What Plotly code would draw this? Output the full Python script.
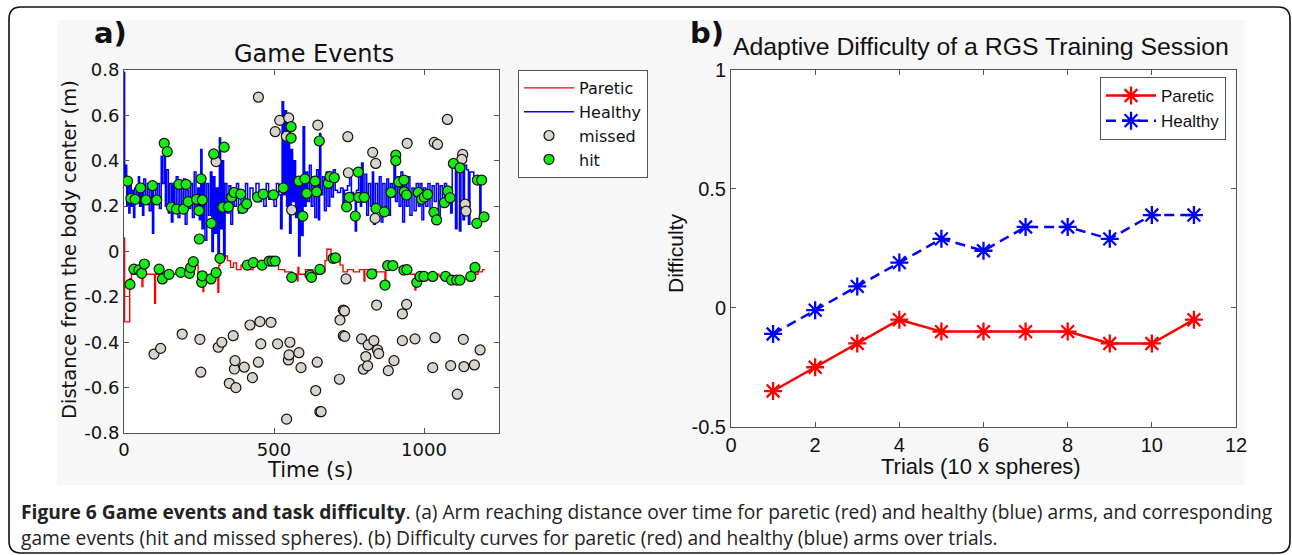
import plotly.graph_objects as go

W, H = 1292, 555

# ---------------- Panel a data ----------------
paretic_t = [0, 2, 19, 25, 45, 60, 63, 85, 102, 105, 125, 128, 150, 180, 205, 225, 247, 263, 266, 290,
             313, 316, 320, 330, 345, 355, 365, 375, 390, 410, 430, 450, 470, 490, 515, 536, 560, 578,
             580, 583, 605, 630, 650, 670, 676, 690, 705, 720, 730, 745, 765, 785, 800, 803, 840, 870,
             873, 900, 936, 955, 970, 973, 1000, 1050, 1100, 1150, 1180, 1195, 1203]
paretic_d = [0.06, -0.31, -0.12, -0.1, -0.09, -0.155, -0.1, -0.1, -0.228, -0.1, -0.14, -0.09, -0.1, -0.09,
             -0.08, -0.06, -0.12, -0.177, -0.11, -0.1, -0.18, -0.06, -0.03, -0.02, -0.04, -0.07, -0.05,
             -0.08, -0.06, -0.08, -0.06, -0.07, -0.05, -0.06, -0.08, -0.09, -0.1, -0.13, -0.07, -0.1,
             -0.08, -0.1, -0.09, -0.04, 0.01, -0.01, -0.03, -0.06, -0.09, -0.08, -0.09, -0.08, -0.13,
             -0.08, -0.09, -0.14, -0.07, -0.07, -0.09, -0.1, -0.17, -0.11, -0.1, -0.11, -0.12, -0.1,
             -0.09, -0.08, -0.08]

healthy_t = [0, 2, 6, 9, 12, 16, 20, 24, 28, 32, 36, 42, 48, 52, 57, 62, 66, 72, 78, 84, 90, 95, 99, 106,
             112, 118, 124, 128, 134, 138, 142, 148, 152, 158, 163, 168, 174, 180, 186, 192, 198, 204, 210,
             216, 222, 228, 234, 240, 246, 251, 256, 260, 265, 270, 276, 282, 288, 293, 298, 303, 308, 313,
             318, 322, 327, 332, 337, 343, 350, 356, 362, 368, 375, 382, 390, 398, 405, 412, 420, 430, 440,
             450, 458, 466, 474, 482, 490, 500, 508, 516, 522, 527, 532, 537, 542, 547, 552, 557, 562, 567,
             572, 577, 582, 587, 592, 597, 602, 607, 612, 618, 624, 630, 636, 642, 648, 652, 656, 662, 668,
             674, 680, 686, 692, 698, 704, 712, 722, 730, 735, 745, 752, 758, 765, 771, 775, 782, 788, 792,
             797, 803, 809, 815, 822, 828, 832, 838, 845, 851, 857, 863, 870, 876, 882, 888, 894, 900, 905,
             911, 917, 923, 929, 935, 941, 947, 953, 960, 967, 974, 981, 987, 993, 999, 1006, 1013, 1020,
             1027, 1034, 1041, 1048, 1054, 1061, 1068, 1075, 1082, 1089, 1094, 1099, 1105, 1110, 1118,
             1123, 1130, 1135, 1142, 1148, 1153, 1160, 1166, 1172, 1180, 1186, 1190, 1196, 1203]
healthy_d = [0.79, 0.30, 0.38, 0.2, 0.32, 0.17, 0.3, 0.2, 0.27, 0.15, 0.28, 0.22, 0.33, 0.2, 0.3, 0.16, 0.32,
             0.23, 0.3, 0.18, 0.29, 0.08, 0.29, 0.22, 0.3, 0.19, 0.42, 0.3, 0.44, 0.2, 0.36, 0.17, 0.3, 0.13,
             0.3, 0.2, 0.33, 0.15, 0.29, 0.18, 0.32, 0.12, 0.27, 0.19, 0.3, 0.15, 0.35, 0.2, 0.28, 0.14, 0.45,
             0.1, 0.32, 0.05, 0.3, 0.16, 0.35, 0.0, 0.33, 0.08, 0.28, -0.02, 0.5, 0.1, 0.4, -0.03, 0.3, 0.17,
             0.29, 0.12, 0.28, 0.2, 0.3, 0.17, 0.27, 0.21, 0.3, 0.22, 0.28, 0.24, 0.3, 0.22, 0.27, 0.2, 0.3,
             0.23, 0.26, 0.2, 0.3, 0.25, 0.1, 0.66, 0.25, 0.62, 0.2, 0.55, 0.08, 0.45, 0.22, 0.4, 0.15, 0.33,
             -0.02, 0.3, 0.07, 0.55, 0.2, 0.35, 0.22, 0.38, 0.2, 0.33, 0.15, 0.36, 0.14, 0.52, 0.25, 0.33,
             0.18, 0.35, 0.2, 0.33, 0.24, 0.36, 0.27, 0.26, 0.28, 0.2, 0.27, 0.29, 0.36, 0.26, 0.23, 0.09,
             0.27, 0.33, 0.2, 0.39, 0.22, 0.34, 0.16, 0.3, 0.2, 0.35, 0.12, 0.3, 0.2, 0.33, 0.13, 0.3, 0.2,
             0.32, 0.16, 0.3, 0.24, 0.42, 0.22, 0.33, 0.2, 0.35, 0.13, 0.3, 0.2, 0.33, 0.16, 0.28, 0.18, 0.3,
             0.2, 0.3, 0.14, 0.28, 0.2, 0.3, 0.17, 0.29, 0.22, 0.3, 0.15, 0.29, 0.2, 0.3, 0.22, 0.28, 0.17,
             0.39, 0.38, 0.1, 0.38, 0.09, 0.37, 0.14, 0.38, 0.36, 0.12, 0.35, 0.35, 0.33, 0.32, 0.33, 0.16,
             0.33, 0.31, 0.31]

hit_t = [12, 23, 37, 55, 73, 95, 109, 134, 144, 158, 175, 183, 198, 207, 214, 242, 250, 257, 261, 251, 291,
         299, 329, 334, 348, 359, 367, 389, 396, 409, 445, 464, 498, 531, 557, 557, 583, 596, 603, 609, 637,
         642, 651, 681, 687, 701, 742, 751, 771, 781, 782, 801, 840, 868, 890, 906, 906, 916, 933, 934, 942,
         981, 992, 1001, 1012, 1033, 1042, 1068, 1079, 1087, 1098, 1120, 1176, 1178, 1192, 1200,
         20, 33, 50, 59, 68, 117, 128, 150, 189, 218, 222, 231, 259, 261, 290, 307, 320, 411, 431, 460, 484,
         494, 504, 559, 620, 625, 653, 697, 705, 826, 870, 879, 896, 933, 943, 976, 987, 1000, 1029, 1072,
         1092, 1109, 1120, 1156, 1170]
hit_d = [0.31, 0.234, 0.23, 0.28, 0.227, 0.29, 0.227, 0.477, 0.44, 0.195, 0.187, 0.296, 0.187, 0.296, 0.22,
         0.23, 0.18, 0.32, 0.227, 0.055, 0.124, 0.43, 0.195, 0.46, 0.197, 0.24, 0.26, 0.253, 0.19, 0.21,
         0.24, 0.253, 0.25, 0.28, 0.55, 0.50, 0.31, 0.156, 0.32, 0.256, 0.31, 0.263, 0.487, 0.30, 0.33,
         0.325, 0.197, 0.239, 0.156, 0.35, 0.239, 0.239, 0.19, 0.175, 0.26, 0.425, 0.40, 0.307, 0.315,
         0.263, 0.249, 0.26, 0.23, 0.24, 0.252, 0.173, 0.139, 0.215, 0.267, 0.237, 0.388, 0.369, 0.124,
         0.315, 0.315, 0.153,
         -0.145, -0.078, -0.081, -0.096, -0.055, -0.078, -0.121, -0.101, -0.092, -0.096, -0.071, -0.045,
         -0.136, -0.107, -0.121, -0.093, -0.03, -0.06, -0.049, -0.06, -0.042, -0.042, -0.042, -0.114,
         -0.104, -0.114, -0.079, -0.03, -0.028, -0.099, -0.148, -0.062, -0.062, -0.082, -0.08, -0.136,
         -0.11, -0.11, -0.11, -0.11, -0.126, -0.126, -0.126, -0.11, -0.07]

missed_t = [448, 504, 519, 549, 541, 307, 559, 646, 746, 748, 829, 839, 837, 944, 1034, 1045, 1078, 1129,
            1126, 1137, 1140,
            100, 122, 194, 253, 256, 314, 326, 351, 364, 368, 370, 373, 401, 420, 428, 448, 456, 453, 490,
            512, 542, 548, 550, 553, 583, 590, 644, 639, 653, 657, 720, 731, 735, 731, 736, 718, 740, 792,
            798, 806, 812, 814, 833, 842, 845, 849, 881, 900, 928, 942, 928, 970, 1029, 1037, 1089, 1111,
            1131, 1133, 1168, 1187]
missed_d = [0.68, 0.528, 0.578, 0.589, 0.508, 0.396, 0.183, 0.557, 0.506, 0.347, 0.437, 0.388, 0.146, 0.477,
            0.481, 0.472, 0.582, 0.428, 0.406, 0.209, 0.178,
            -0.452, -0.427, -0.364, -0.387, -0.532, -0.422, -0.4, -0.581, -0.371, -0.518, -0.481, -0.6,
            -0.51, -0.324, -0.556, -0.488, -0.407, -0.309, -0.312, -0.407, -0.739, -0.478, -0.456, -0.4,
            -0.446, -0.512, -0.488, -0.613, -0.706, -0.706, -0.302, -0.258, -0.262, -0.371, -0.374, -0.563,
            -0.121, -0.385, -0.519, -0.463, -0.504, -0.412, -0.393, -0.236, -0.434, -0.45, -0.525, -0.481,
            -0.275, -0.233, -0.393, -0.385, -0.512, -0.38, -0.503, -0.629, -0.387, -0.507, -0.5, -0.434]

a_xticks = [0, 500, 1000]
a_xticklabels = ["0", "500", "1000"]
a_yticks = [-0.8, -0.6, -0.4, -0.2, 0, 0.2, 0.4, 0.6, 0.8]
a_yticklabels = ["-0.8", "-0.6", "-0.4", "-0.2", "0", "0.2", "0.4", "0.6", "0.8"]

# ---------------- Panel b data ----------------
trials = [1, 2, 3, 4, 5, 6, 7, 8, 9, 10, 11]
diff_paretic = [-0.35, -0.25, -0.15, -0.05, -0.1, -0.1, -0.1, -0.1, -0.15, -0.15, -0.05]
diff_healthy = [-0.11, -0.01, 0.09, 0.19, 0.29, 0.24, 0.34, 0.34, 0.29, 0.39, 0.39]

b_xticks = [0, 2, 4, 6, 8, 10, 12]
b_xticklabels = ["0", "2", "4", "6", "8", "10", "12"]
b_yticks = [-0.5, 0, 0.5, 1]
b_yticklabels = ["-0.5", "0", "0.5", "1"]


def px(x):
    return x / W


def py(y):
    return 1 - y / H


FA = "DejaVu Sans, Liberation Sans, Arial, sans-serif"
FB = "Liberation Sans, Arial, sans-serif"
AX = "#555555"

# plot-area pixel boxes (left, top, right, bottom)
A_BOX = (124, 70, 499, 433)
B_BOX = (731, 70, 1236, 426.7)

fig = go.Figure()

# panel a traces
fig.add_trace(go.Scatter(x=paretic_t, y=paretic_d, mode="lines", name="Paretic",
                         line=dict(color="#ff0000", width=1.4, shape="hv"),
                         xaxis="x", yaxis="y", legend="legend"))
fig.add_trace(go.Scatter(x=healthy_t, y=healthy_d, mode="lines", name="Healthy",
                         line=dict(color="#0000ff", width=1.5, shape="hv"),
                         xaxis="x", yaxis="y", legend="legend"))
fig.add_trace(go.Scatter(x=missed_t, y=missed_d, mode="markers", name="missed",
                         marker=dict(symbol="circle", size=10, color="#d8d4cc",
                                     line=dict(color="#111111", width=1.2)),
                         xaxis="x", yaxis="y", legend="legend"))
fig.add_trace(go.Scatter(x=hit_t, y=hit_d, mode="markers", name="hit",
                         marker=dict(symbol="circle", size=10, color="#14ec14",
                                     line=dict(color="#111111", width=1.2)),
                         xaxis="x", yaxis="y", legend="legend"))

# panel b traces
fig.add_trace(go.Scatter(x=trials, y=diff_paretic, mode="lines+markers", name="Paretic",
                         line=dict(color="#ff0000", width=2.5),
                         marker=dict(symbol="asterisk-open", size=15,
                                     line=dict(color="#ff0000", width=2.3)),
                         xaxis="x2", yaxis="y2", legend="legend2"))
fig.add_trace(go.Scatter(x=trials, y=diff_healthy, mode="lines+markers", name="Healthy",
                         line=dict(color="#0000ff", width=2.5, dash="10px,6px"),
                         marker=dict(symbol="asterisk-open", size=15,
                                     line=dict(color="#0000ff", width=2.3)),
                         xaxis="x2", yaxis="y2", legend="legend2"))

ax_common = dict(showline=True, linecolor=AX, linewidth=1, mirror="ticks", ticks="inside",
                 ticklen=5, tickcolor=AX, showgrid=False, zeroline=False, fixedrange=True,
                 automargin=False)


def rounded(x0, y0, x1, y1, r):
    X0, X1 = px(x0), px(x1)
    Y0, Y1 = py(y0), py(y1)
    rx, ry = r / W, r / H
    return (f"M {X0+rx} {Y0} L {X1-rx} {Y0} Q {X1} {Y0} {X1} {Y0-ry} "
            f"L {X1} {Y1+ry} Q {X1} {Y1} {X1-rx} {Y1} L {X0+rx} {Y1} Q {X0} {Y1} {X0} {Y1+ry} "
            f"L {X0} {Y0-ry} Q {X0} {Y0} {X0+rx} {Y0} Z")


def white_box(b):
    return dict(type="rect", xref="paper", yref="paper", x0=px(b[0]), x1=px(b[2]), y0=py(b[3]),
                y1=py(b[1]), fillcolor="#ffffff", line=dict(width=0), layer="below")


shapes = [
    dict(type="rect", xref="paper", yref="paper", x0=px(57), x1=px(1245), y0=py(485), y1=py(20),
         fillcolor="#f7f7f7", line=dict(width=0), layer="below"),
    white_box(A_BOX),
    white_box(B_BOX),
    dict(type="path", xref="paper", yref="paper", path=rounded(9, 7, 1290, 553, 12),
         line=dict(color="#111111", width=1.6), fillcolor="rgba(0,0,0,0)", layer="above"),
]


def ann(text, x, y, size, family=FA, xanchor="center", angle=0, color="#111"):
    return dict(text=text, x=px(x), y=py(y), xref="paper", yref="paper", xanchor=xanchor,
                yanchor="middle", textangle=angle, showarrow=False,
                font=dict(family=family, size=size, color=color))


CAP = "Open Sans, Noto Sans, sans-serif"
annotations = [
    ann("<b>a)</b>", 92, 33, 29, xanchor="left"),
    ann("Game Events", 314, 54, 24),
    ann("Time (s)", 310, 470, 21),
    ann("Distance from the body center (m)", 69, 250, 19.5, angle=-90),
    ann("<b>b)</b>", 688, 33, 29, xanchor="left"),
    ann("Adaptive Difficulty of a RGS Training Session", 731, 46, 24.8, family=FB, xanchor="left"),
    ann("Trials (10 x spheres)", 981, 466, 22, family=FB),
    ann("Difficulty", 675, 254, 21, family=FB, angle=-90),
    ann("<b>Figure 6 Game events and task difficulty</b>. (a) Arm reaching distance over time for paretic "
        "(red) and healthy (blue) arms, and corresponding", 19, 511, 19.2, family=CAP, xanchor="left",
        color="#222"),
    ann("game events (hit and missed spheres). (b) Difficulty curves for paretic (red) and healthy (blue) "
        "arms over trials.", 19, 537, 19.2, family=CAP, xanchor="left", color="#222"),
]

fig.update_layout(
    template="none",
    width=W, height=H, margin=dict(l=0, r=0, t=0, b=0, pad=0, autoexpand=False),
    paper_bgcolor="#ffffff", plot_bgcolor="rgba(0,0,0,0)",
    xaxis=dict(domain=[px(A_BOX[0]), px(A_BOX[2])], range=[0, 1250], tickvals=a_xticks,
               ticktext=a_xticklabels, anchor="y", tickfont=dict(family=FA, size=18, color="#111"),
               **ax_common),
    yaxis=dict(domain=[py(A_BOX[3]), py(A_BOX[1])], range=[-0.8, 0.8], tickvals=a_yticks,
               ticktext=a_yticklabels, anchor="x", tickfont=dict(family=FA, size=18, color="#111"),
               **ax_common),
    xaxis2=dict(domain=[px(B_BOX[0]), px(B_BOX[2])], range=[0, 12], tickvals=b_xticks,
                ticktext=b_xticklabels, anchor="y2", tickfont=dict(family=FB, size=20, color="#111"),
                **ax_common),
    yaxis2=dict(domain=[py(B_BOX[3]), py(B_BOX[1])], range=[-0.5, 1], tickvals=b_yticks,
                ticktext=b_yticklabels, anchor="x2", tickfont=dict(family=FB, size=20, color="#111"),
                **ax_common),
    legend=dict(x=px(518), y=py(70), xanchor="left", yanchor="top", bgcolor="#ffffff",
                bordercolor=AX, borderwidth=1, font=dict(family=FA, size=16, color="#111"),
                itemwidth=50, tracegroupgap=0),
    legend2=dict(x=px(1100), y=py(77), xanchor="left", yanchor="top", bgcolor="#ffffff",
                 bordercolor=AX, borderwidth=1, font=dict(family=FB, size=17, color="#111"),
                 itemwidth=50, tracegroupgap=0),
    showlegend=True,
    shapes=shapes,
    annotations=annotations,
)

fig.write_html("out.html", config={"displayModeBar": False},
               post_script="document.body.style.margin='0';document.body.style.padding='0';")
